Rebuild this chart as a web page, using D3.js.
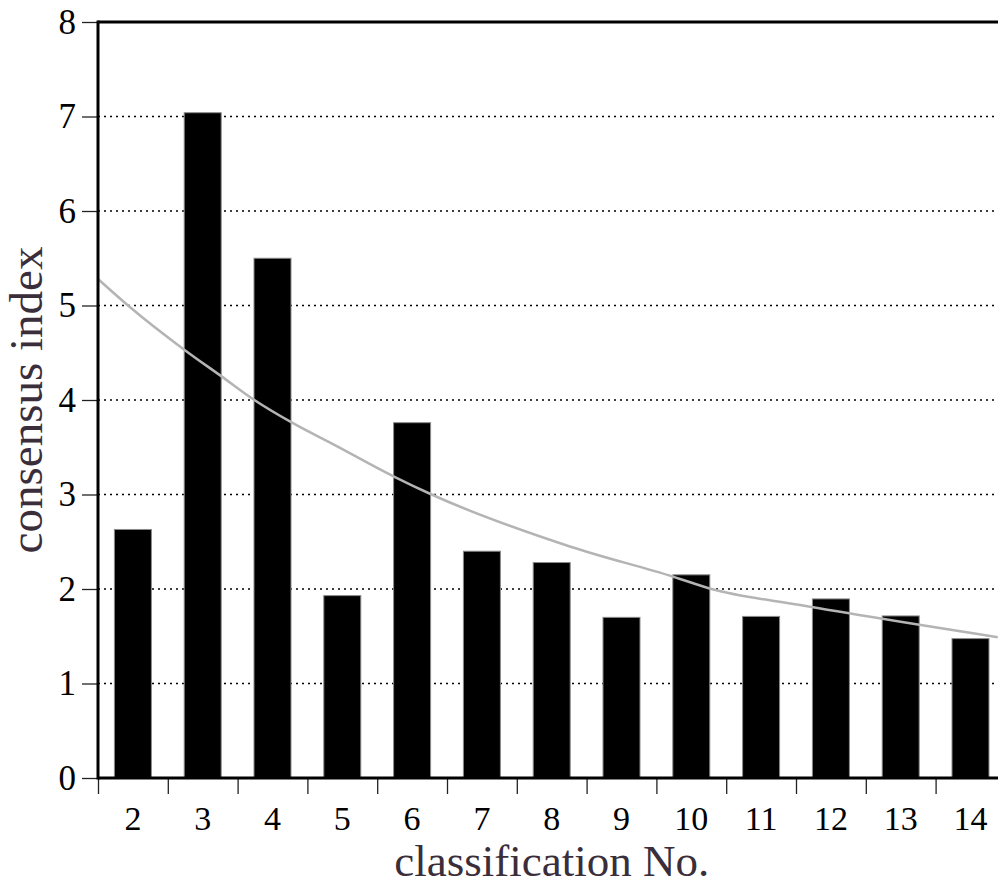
<!DOCTYPE html>
<html>
<head>
<meta charset="utf-8">
<script src="https://cdn.jsdelivr.net/npm/d3@7"></script>
<style>
  html, body { margin: 0; padding: 0; background: #fff; overflow: hidden; }
  svg { display: block; }
</style>
</head>
<body>
<svg id="chart" width="998" height="886"></svg>
<script>
// ---- data ----
const categories = ["2","3","4","5","6","7","8","9","10","11","12","13","14"];
const values = [2.63, 7.04, 5.50, 1.93, 3.76, 2.40, 2.28, 1.70, 2.15, 1.71, 1.895, 1.715, 1.475];
// trend curve samples (x in classification units, y in index units)
const trendX = [1.50, 1.93, 2.74, 3.27, 3.74, 4.28, 4.90, 5.74, 6.28, 8.26, 9.74, 10.29, 11.56, 14.39];
const trendY = [5.28, 5.00, 4.53, 4.25, 4.00, 3.76, 3.52, 3.19, 3.00, 2.45, 2.13, 2.00, 1.83, 1.49];
const yTicks = [0, 1, 2, 3, 4, 5, 6, 7, 8];
const xTitle = "classification No.";
const yTitle = "consensus index";

// ---- layout ----
const plotLeft = 98, plotTop = 22, plotBottom = 778;
const step = 69.8;
const plotRight = plotLeft + categories.length * step;
const svg = d3.select("#chart");
const font = "'Liberation Serif', 'Times New Roman', serif";

const x = d3.scaleBand().domain(categories).range([plotLeft, plotRight])
  .paddingInner(0.47).paddingOuter(0.235);
const xc = d3.scaleLinear().domain([1.5, 1.5 + categories.length]).range([plotLeft, plotRight]);
const y = d3.scaleLinear().domain([0, 8]).range([plotBottom, plotTop]);

// gridlines (behind bars)
svg.append("g").selectAll("line").data(yTicks.filter(d => d > 0 && d < 8)).join("line")
  .attr("x1", plotLeft).attr("x2", plotRight)
  .attr("y1", d => y(d)).attr("y2", d => y(d))
  .attr("stroke", "#000").attr("stroke-width", 1.3)
  .attr("stroke-dasharray", "2,4");

// bars
svg.append("g").selectAll("rect").data(values).join("rect")
  .attr("x", (d, i) => x(categories[i]))
  .attr("width", x.bandwidth())
  .attr("y", d => y(d))
  .attr("height", d => y(0) - y(d))
  .attr("fill", "#000")
  .attr("stroke", "#8a8a8a").attr("stroke-width", 1);

// trend curve
const pts = trendX.map((t, i) => [t, trendY[i]]);
svg.append("path").datum(pts)
  .attr("d", d3.line().x(d => xc(d[0])).y(d => y(d[1])).curve(d3.curveMonotoneX))
  .attr("fill", "none").attr("stroke", "#b4b4b4").attr("stroke-width", 2.5);

// y axis
const yAxis = d3.axisLeft(y).tickValues(yTicks).tickSize(16).tickPadding(6).tickFormat(d3.format("d"));
const gy = svg.append("g").attr("transform", `translate(${plotLeft},0)`).call(yAxis);
gy.select(".domain").remove();
gy.selectAll(".tick line").attr("stroke", "#222").attr("stroke-width", 1.3);
gy.selectAll(".tick text").attr("font-family", font).attr("font-size", 35).attr("fill", "#000");

// x axis: ticks at slot boundaries, labels at centres
const boundaries = d3.range(categories.length + 1).map(i => 1.5 + i);
const xAxisTicks = d3.axisBottom(xc).tickValues(boundaries).tickSize(16).tickFormat("");
const gx = svg.append("g").attr("transform", `translate(0,${plotBottom})`).call(xAxisTicks);
gx.select(".domain").remove();
gx.selectAll(".tick line").attr("stroke", "#222").attr("stroke-width", 1.3);

const xLabels = d3.axisBottom(x).tickSize(0).tickPadding(28);
const gxl = svg.append("g").attr("transform", `translate(0,${plotBottom})`).call(xLabels);
gxl.select(".domain").remove();
gxl.selectAll(".tick text").attr("font-family", font).attr("font-size", 34).attr("fill", "#000");

// frame lines (thick)
svg.append("line").attr("x1", plotLeft).attr("x2", plotLeft).attr("y1", plotTop - 1.5).attr("y2", plotBottom + 1.5)
  .attr("stroke", "#000").attr("stroke-width", 3);
svg.append("line").attr("x1", plotLeft).attr("x2", plotRight).attr("y1", plotTop).attr("y2", plotTop)
  .attr("stroke", "#000").attr("stroke-width", 3);
svg.append("line").attr("x1", plotLeft).attr("x2", plotRight).attr("y1", plotBottom).attr("y2", plotBottom)
  .attr("stroke", "#000").attr("stroke-width", 3);

// titles
svg.append("text").text(xTitle)
  .attr("x", (plotLeft + plotRight) / 2).attr("y", 876)
  .attr("text-anchor", "middle")
  .attr("font-family", font).attr("font-size", 45).attr("fill", "#3a2e3a");
svg.append("text").text(yTitle)
  .attr("transform", `translate(42,${(plotTop + plotBottom) / 2}) rotate(-90)`)
  .attr("text-anchor", "middle")
  .attr("font-family", font).attr("font-size", 47).attr("fill", "#3a2e3a");
</script>
</body>
</html>
